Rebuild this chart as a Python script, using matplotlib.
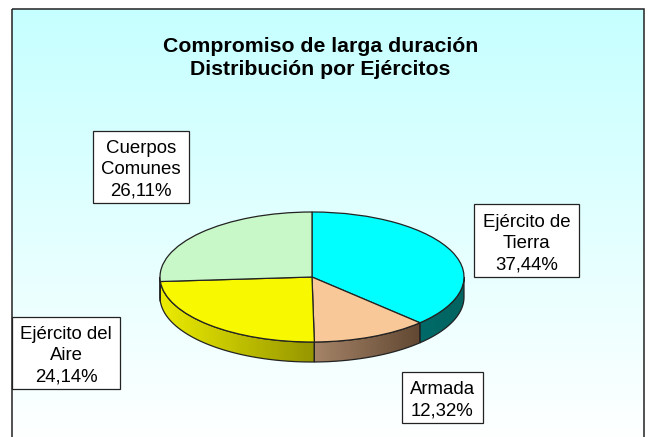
import numpy as np
import matplotlib
matplotlib.use("Agg")
import matplotlib.pyplot as plt
from matplotlib.patches import Polygon, Rectangle
from matplotlib.colors import LinearSegmentedColormap

plt.rcParams['font.family'] = ['Liberation Sans', 'DejaVu Sans']

title = "Compromiso de larga duración\nDistribución por Ejércitos"
categories = ["Ejército de\nTierra", "Armada", "Ejército del\nAire", "Cuerpos\nComunes"]
values = [37.44, 12.32, 24.14, 26.11]
value_labels = ["37,44%", "12,32%", "24,14%", "26,11%"]
colors = ["#00FFFF", "#F8C898", "#F8F800", "#C8F8C8"]
# side wall colours, left -> right
side_colors = [("#006A68", "#006460"), ("#A58468", "#624832"), ("#ECEC00", "#969600"), ("#B8E0B8", "#A0C8A0")]

W, H = 648, 437
cx, cy, rx, ry, depth = 312, 277, 152, 65, 20

fig = plt.figure(figsize=(W / 100, H / 100), dpi=100, facecolor="white")

# background, in pixel coordinates
bg = fig.add_axes([0, 0, 1, 1])
cmap = LinearSegmentedColormap.from_list("bg", ["#C6FFFF", "#FFFFFF"])
grad = np.linspace(0, 1, 256).reshape(-1, 1)
bg.imshow(grad, cmap=cmap, extent=(12, 644, 445, 9), aspect="auto", zorder=0)
bg.set_xlim(0, W)
bg.set_ylim(H, 0)
bg.axis("off")
bg.add_patch(Rectangle((12, 9), 632, 436, fc="none", ec="#222222", lw=1.1, zorder=1))
bg.text(320.5, 58, title, ha="center", va="center", fontsize=15.3, fontweight="bold",
        color="black", linespacing=1.28)

# pie, radius 1 = rx horizontally and ry vertically
ax = fig.add_axes([0, 0, 1, 1])
ax.patch.set_alpha(0)
wedges, _ = ax.pie(values, colors=colors, startangle=90, counterclock=False,
                   wedgeprops=dict(edgecolor="#222222", linewidth=0.9))
for w in wedges:
    w.set_zorder(5)

xlim = (-cx / rx, (W - cx) / rx)
ylim = ((cy - H) / ry, cy / ry)
d = depth / ry

for w, (c0, c1) in zip(wedges, side_colors):
    # only the front half of the rim shows
    t0, t1 = w.theta1, w.theta2
    if t0 < 0:
        t0 += 360
        t1 += 360
    t0, t1 = max(t0, 180), min(t1, 360)
    if t1 <= t0:
        continue
    t = np.radians(np.linspace(t0, t1, 80))
    x, y = np.cos(t), np.sin(t)
    pts = np.vstack([np.c_[x, y], np.c_[x[::-1], y[::-1] - d]])
    poly = Polygon(pts, closed=True, fc="none", ec="#222222", lw=0.9, zorder=3)
    ax.add_patch(poly)
    cm = LinearSegmentedColormap.from_list("s", [c0, c1])
    im = ax.imshow(np.linspace(0, 1, 128).reshape(1, -1), cmap=cm, aspect="auto", zorder=2,
                   extent=(x.min(), x.max(), y.min() - d, y.max()))
    im.set_clip_path(poly)

ax.set_aspect("auto")
ax.set_xlim(xlim)
ax.set_ylim(ylim)
ax.set_position([0, 0, 1, 1])
ax.axis("off")

# label boxes
boxes = [(474, 204, 105, 73), (402, 372, 81, 51), (12, 317, 108, 72), (93, 131, 96, 72)]
for cat, val, (bx, by, bw, bh) in zip(categories, value_labels, boxes):
    ax.add_patch(Rectangle(((bx - cx) / rx, (cy - by - bh) / ry), bw / rx, bh / ry,
                           fc="white", ec="#222222", lw=0.9, zorder=6))
    ax.text((bx + bw / 2 - cx) / rx, (cy - by - bh / 2 - 3) / ry, cat + "\n" + val,
            ha="center", va="center", fontsize=13.4, color="black", zorder=7, linespacing=1.34)

fig.savefig("out.png", dpi=100)
